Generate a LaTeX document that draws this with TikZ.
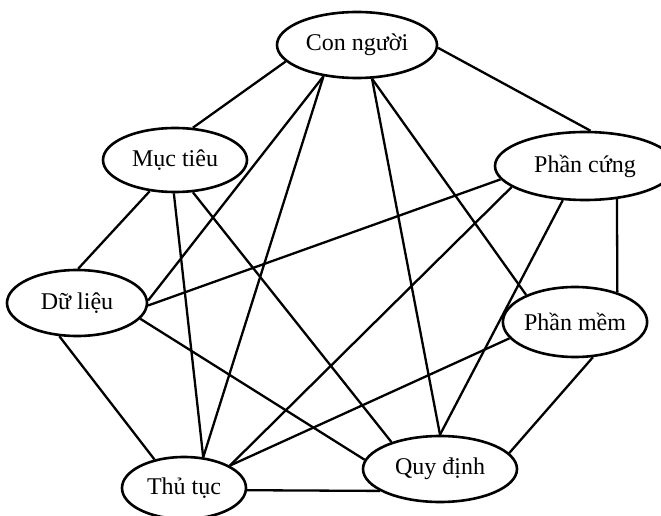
\documentclass[tikz,border=0pt]{standalone}
\usepackage{fontspec}
\setmainfont{Liberation Serif}
\usetikzlibrary{shapes.geometric}
\begin{document}
\begin{tikzpicture}[x=1pt,y=-1pt]
\tikzset{
  blob/.style={ellipse, draw, line width=2.6pt, inner sep=0pt,
    font=\fontsize{24}{28}\selectfont},
  link/.style={line width=2.3pt}
}
\useasboundingbox (0,0) rectangle (661,516);

% components of the system
\node[blob, minimum width=160pt, minimum height=66pt] (con)  at (357,45)  {Con người};
\node[blob, minimum width=144pt, minimum height=64pt] (muc)  at (175,160) {Mục tiêu};
\node[blob, minimum width=180pt, minimum height=68pt] (cung) at (585,166) {Phần cứng};
\node[blob, minimum width=140pt, minimum height=66pt] (du)   at (77,303)  {Dữ liệu};
\node[blob, minimum width=144pt, minimum height=70pt] (mem)  at (575,322) {Phần mềm};
\node[blob, minimum width=124pt, minimum height=62pt] (thu)  at (184,488) {Thủ tục};
\node[blob, minimum width=154pt, minimum height=66pt] (quy)  at (440,469) {Quy định};

% relations
\draw[link] (con.193) -- (muc.61);
\draw[link] (con.358) -- (cung.81);
\draw[link] (con.223) -- (du.2);
\draw[link] (con.223) -- (thu.58);
\draw[link] (con.294) -- (quy.90);
\draw[link] (con.294) -- (mem.151);

\draw[link] (muc.231) -- (du.88);
\draw[link] (muc.268) -- (thu.58);
\draw[link] (muc.299) -- (quy.151);

\draw[link] (cung.189) -- (du.-2);
\draw[link] (cung.196) -- (thu.26);
\draw[link] (cung.237) -- (quy.90);
\draw[link] (cung.314) -- (mem.35);

\draw[link] (du.346) -- (quy.173);
\draw[link] (du.242) -- (thu.136);

\draw[link] (mem.194) -- (thu.26);
\draw[link] (mem.297) -- (quy.13);

\draw[link] (thu.358) -- (quy.200);
\end{tikzpicture}
\end{document}
